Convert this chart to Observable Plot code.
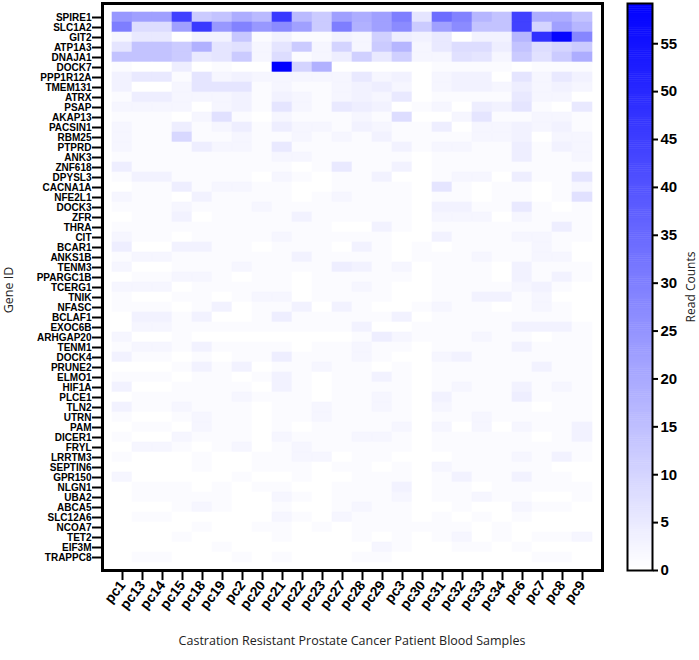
<!DOCTYPE html>
<html><head><meta charset="utf-8">
<script src="https://cdn.jsdelivr.net/npm/d3@7"></script>
<script src="https://cdn.jsdelivr.net/npm/@observablehq/plot@0.6"></script>
<style>
body{margin:0;background:#fff;}
#wrap{position:relative;width:699px;height:660px;overflow:hidden;background:#fff;}
#wrap svg{position:absolute;top:0;}
#wrap svg [aria-label="x-axis tick label"] text,#wrap svg [aria-label="y-axis tick label"] text{font-weight:bold;}
.lbl{position:absolute;font-family:"Open Sans",sans-serif;font-size:12px;color:#222;white-space:nowrap;}
</style></head><body><div id="wrap"></div>
<script>
const samples = ["pc1","pc13","pc14","pc15","pc18","pc19","pc2","pc20","pc21","pc22","pc23","pc27","pc28","pc29","pc3","pc30","pc31","pc32","pc33","pc34","pc6","pc7","pc8","pc9"];
const genes = ["SPIRE1","SLC1A2","GIT2","ATP1A3","DNAJA1","DOCK7","PPP1R12A","TMEM131","ATRX","PSAP","AKAP13","PACSIN1","RBM25","PTPRD","ANK3","ZNF618","DPYSL3","CACNA1A","NFE2L1","DOCK3","ZFR","THRA","CIT","BCAR1","ANKS1B","TENM3","PPARGC1B","TCERG1","TNIK","NFASC","BCLAF1","EXOC6B","ARHGAP20","TENM1","DOCK4","PRUNE2","ELMO1","HIF1A","PLCE1","TLN2","UTRN","PAM","DICER1","FRYL","LRRTM3","SEPTIN6","GPR150","NLGN1","UBA2","ABCA5","SLC12A6","NCOA7","TET2","EIF3M","TRAPPC8"];
// read counts, one row per gene, columns in sample order
const readCounts = [
[24,22,22,44,12,14,19,16,46,16,12,22,19,22,30,6,34,29,17,14,44,19,19,14],
[30,8,8,22,46,24,29,24,27,22,12,30,18,22,27,12,22,27,14,14,44,10,22,17],
[2,5,5,0,3,3,13,1,3,1,1,3,2,11,4,3,5,0,3,3,17,48,58,28],
[6,14,14,12,18,6,7,2,6,12,2,10,2,12,17,2,5,8,8,4,14,8,10,12],
[14,14,14,12,5,6,12,2,8,1,2,4,11,5,11,2,2,7,6,2,12,7,12,19],
[1,0,0,4,0,1,0,0,59,10,18,0,0,0,0,0,1,1,1,1,0,1,1,1],
[3,5,5,1,6,2,3,2,2,2,2,2,5,2,3,0,2,3,3,0,6,2,5,3],
[3,0,0,2,6,6,6,1,2,1,1,2,3,4,2,0,2,3,3,2,4,2,3,2],
[1,4,4,2,2,2,3,1,3,2,1,2,3,2,5,0,1,1,1,1,5,2,2,0],
[2,2,2,2,0,2,3,1,6,2,1,5,4,3,0,1,2,0,4,3,6,1,0,5],
[1,1,1,0,2,7,1,0,2,1,1,1,2,1,8,0,0,2,6,1,1,2,2,1],
[2,1,1,4,1,2,4,1,4,2,2,1,3,2,1,1,4,0,2,2,3,2,3,1],
[2,1,1,9,1,1,2,1,1,2,1,2,1,3,1,1,1,1,2,2,3,0,2,2],
[2,1,1,1,4,2,2,1,5,1,1,1,1,1,3,1,2,2,1,1,4,1,3,2],
[1,1,1,1,1,1,1,1,2,2,1,1,1,1,1,0,1,1,1,1,4,1,1,2],
[4,1,1,1,1,1,1,1,1,0,1,5,1,1,3,0,1,1,1,1,1,1,1,1],
[1,3,3,1,1,1,1,0,2,1,0,1,1,3,0,0,1,2,2,0,4,1,1,6],
[0,1,1,4,1,2,2,1,1,0,0,1,1,1,1,0,6,1,0,1,1,0,1,2],
[2,1,1,0,3,1,1,1,1,0,1,2,1,1,1,0,1,1,0,1,1,0,1,7],
[1,1,1,2,1,1,1,2,1,1,1,1,1,1,1,0,3,3,1,1,5,1,0,1],
[0,1,1,3,0,1,1,1,1,3,1,1,1,1,1,0,2,2,2,0,2,1,1,1],
[1,1,1,1,1,1,1,1,1,1,1,0,0,3,1,0,1,1,1,1,1,1,4,1],
[2,1,1,0,1,1,1,1,2,1,1,1,1,1,0,0,3,1,1,1,2,2,1,1],
[4,0,0,3,3,1,1,0,1,1,1,0,3,1,0,1,0,1,1,1,1,2,1,0],
[1,2,2,1,1,1,1,1,1,3,1,1,1,1,0,1,1,1,2,1,1,2,2,0],
[2,0,0,1,1,1,2,1,1,1,1,4,3,1,2,0,1,1,1,0,3,1,1,1],
[0,1,1,2,2,1,0,1,1,0,1,1,1,1,1,0,1,1,1,0,3,1,3,1],
[2,2,2,0,1,1,1,1,1,0,1,1,2,1,0,0,1,1,1,1,2,3,1,0],
[1,0,0,1,1,0,1,2,2,0,1,1,1,1,0,0,1,1,3,3,1,2,0,0],
[1,1,1,0,1,3,0,1,1,3,0,3,1,0,0,1,2,1,1,0,1,2,1,0],
[0,3,3,1,3,0,0,1,4,1,1,1,1,1,3,0,1,1,1,1,1,1,1,0],
[0,2,2,1,1,1,1,1,1,1,1,1,3,0,0,1,1,1,1,1,3,3,3,1],
[2,0,0,1,0,0,0,0,0,0,0,0,1,4,2,1,1,1,2,1,1,0,1,1],
[1,2,2,1,3,1,1,1,1,0,1,1,2,1,1,0,1,1,1,1,3,1,1,1],
[3,1,1,0,1,0,1,1,4,1,1,1,2,1,0,0,2,3,1,1,1,1,1,1],
[0,0,0,1,3,1,3,0,1,1,2,1,1,0,1,0,1,1,1,1,1,3,1,1],
[1,1,1,0,1,1,0,1,3,1,0,1,1,3,1,0,1,1,1,1,1,1,1,1],
[3,0,0,1,1,1,1,0,3,1,0,1,1,1,1,0,1,2,1,1,3,1,2,1],
[0,1,1,1,1,1,2,1,1,1,0,1,1,2,1,0,3,1,1,1,4,1,1,1],
[3,1,1,2,1,1,1,0,1,1,2,1,1,2,1,0,2,1,1,1,1,0,1,1],
[1,0,0,1,2,1,1,0,1,1,2,1,1,1,1,0,1,1,2,1,1,1,1,1],
[0,1,1,0,2,1,1,0,1,0,1,1,1,1,2,0,2,0,2,0,2,1,1,3],
[1,0,0,2,1,1,1,0,2,1,1,1,2,2,1,0,1,1,1,1,1,0,1,3],
[0,2,2,1,0,1,2,0,1,2,1,1,1,1,1,0,1,1,1,1,1,1,1,1],
[1,0,0,0,1,0,0,1,1,2,2,0,1,1,0,0,0,1,1,1,2,1,3,1],
[0,0,0,0,1,0,0,1,1,1,0,1,1,0,1,0,2,1,1,1,1,1,0,0],
[2,0,0,0,0,0,1,0,0,1,0,0,1,1,1,0,1,3,1,1,3,1,1,0],
[0,1,1,1,0,1,0,1,1,0,0,1,1,1,3,0,1,1,0,1,1,1,1,1],
[0,1,1,1,1,1,0,0,2,1,0,1,1,1,2,0,1,1,2,1,1,0,0,1],
[0,0,0,1,2,1,0,0,1,0,0,1,2,1,1,0,0,1,0,0,2,1,1,0],
[0,1,1,0,0,0,0,0,2,1,0,2,1,1,1,0,1,0,1,0,1,0,0,0],
[0,0,0,0,1,0,0,1,1,0,1,0,1,1,1,1,1,1,0,1,0,0,0,0],
[0,0,0,1,0,0,0,0,1,0,0,0,1,0,1,0,1,2,0,1,0,1,1,2],
[0,0,0,0,0,1,0,0,0,0,0,0,0,2,1,0,0,1,1,0,1,0,0,0],
[0,1,1,0,0,0,1,0,1,0,0,0,1,1,0,0,0,0,0,0,0,1,1,0]
];
const colorTicks = [0,5,10,15,20,25,30,35,40,45,50,55];
const colorMax = 59.2;
const xTitle = "Castration Resistant Prostate Cancer Patient Blood Samples";
const yTitle = "Gene ID";
const legendTitle = "Read Counts";

const cells = genes.flatMap((g, i) => samples.map((s, j) => ({gene: g, sample: s, value: readCounts[i][j]})));
const colorOpt = {type: "linear", domain: [0, colorMax], range: ["#ffffff", "#0000ff"], interpolate: "rgb", clamp: true};
const font = "'Liberation Sans', Arial, sans-serif";

const main = Plot.plot({
  width: 699, height: 660,
  marginLeft: 102, marginRight: 97, marginTop: 3, marginBottom: 90,
  x: {domain: samples, padding: 0, label: null},
  y: {domain: genes, padding: 0, label: null},
  color: colorOpt,
  style: {fontFamily: font, background: "transparent", color: "#000"},
  marks: [
    Plot.cell(cells, {x: "sample", y: "gene", fill: "value", stroke: "value", strokeWidth: 0.6, inset: 0}),
    Plot.frame({stroke: "black", strokeWidth: 3}),
    Plot.axisY({tickSize: 10, tickPadding: 1, fontSize: 10, strokeWidth: 2, label: null}),
    Plot.axisX({tickSize: 10, tickPadding: 2, tickRotate: -52, fontSize: 14, strokeWidth: 2, label: null})
  ]
});

const stops = d3.range(0, colorMax, 0.2);
const bar = Plot.plot({
  width: 99, height: 660,
  marginLeft: 27, marginRight: 47, marginTop: 3, marginBottom: 90,
  x: {domain: [0, 1], axis: null},
  y: {domain: [0, colorMax], label: null},
  color: colorOpt,
  style: {fontFamily: font, background: "transparent", color: "#000"},
  marks: [
    Plot.rect(stops, {x1: 0, x2: 1, y1: d => d, y2: d => Math.min(d + 0.25, colorMax), fill: d => d}),
    Plot.frame({stroke: "black", strokeWidth: 2}),
    Plot.axisY({anchor: "right", ticks: colorTicks, tickSize: 5, tickPadding: 3, fontSize: 15, strokeWidth: 2, label: null})
  ]
});

const wrap = document.getElementById("wrap");
main.style.left = "0px";
bar.style.left = "600px";
wrap.appendChild(main);
wrap.appendChild(bar);

function addLabel(text, css) {
  const d = document.createElement("div");
  d.className = "lbl";
  d.textContent = text;
  Object.assign(d.style, css);
  wrap.appendChild(d);
  return d;
}
addLabel(xTitle, {left: "352px", top: "632px", transform: "translateX(-50%)", fontSize: "12.5px"});
addLabel(yTitle, {left: "8px", top: "290px", transform: "translate(-50%,-50%) rotate(-90deg)", fontSize: "12.5px"});
addLabel(legendTitle, {left: "690px", top: "287px", transform: "translate(-50%,-50%) rotate(-90deg)"});
</script>
</body></html>
